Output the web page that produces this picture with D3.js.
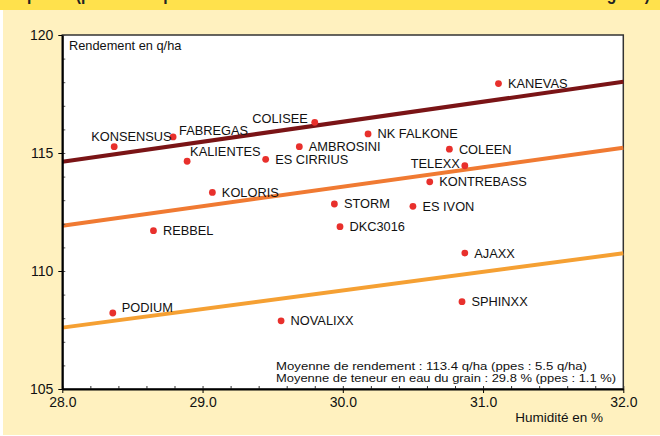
<!DOCTYPE html>
<html>
<head>
<meta charset="utf-8">
<script src="https://cdn.jsdelivr.net/npm/d3@7"></script>
<style>
  body { margin: 0; background: #ffffff; }
  svg { display: block; font-family: "Liberation Sans", Arial, sans-serif; }
</style>
</head>
<body>
<div id="chart"></div>
<script>
"use strict"

// varietes : humidite (%) et rendement (q/ha)
const varieties = ["KONSENSUS", "FABREGAS", "KALIENTES", "COLISEE", "AMBROSINI", "ES CIRRIUS",
  "KOLORIS", "REBBEL", "PODIUM", "NOVALIXX", "KANEVAS", "NK FALKONE", "COLEEN", "TELEXX",
  "KONTREBASS", "STORM", "ES IVON", "DKC3016", "AJAXX", "SPHINXX"];
const humidity = [28.37, 28.79, 28.89, 29.80, 29.69, 29.45,
  29.07, 28.65, 28.36, 29.56, 31.11, 30.18, 30.76, 30.87,
  30.62, 29.94, 30.50, 29.98, 30.87, 30.85];
const yieldQ = [115.27, 115.68, 114.65, 116.30, 115.27, 114.73,
  113.33, 111.71, 108.22, 107.89, 117.94, 115.81, 115.16, 114.46,
  113.78, 112.84, 112.74, 111.88, 110.76, 108.70];

// droites de reference (rendement a 28 % et a 32 %)
const refLines = [
  { from: 114.63, to: 118.02 },
  { from: 111.92, to: 115.22 },
  { from: 107.60, to: 110.75 }
];
const refColors = ["#7a1416", "#f07a32", "#f5a033"];

const xTicks = [28, 29, 30, 31, 32];
const yTicks = [105, 110, 115, 120];
const statLines = [
  "Moyenne de rendement : 113.4 q/ha  (ppes : 5.5 q/ha)",
  "Moyenne de teneur en eau du grain : 29.8 % (ppes : 1.1 %)"
];

// placement des etiquettes qui ne sont pas a droite du point
const labelPlace = {
  "KONSENSUS": [-23, -5.5, "start"],
  "FABREGAS": [6, -2, "start"],
  "KALIENTES": [3, -5, "start"],
  "COLISEE": [-7, 0.5, "end"],
  "TELEXX": [-5, 2, "end"],
  "PODIUM": [9, -1, "start"]
};

let width = 660, height = 436;
let plotL = 62.3, plotR = 623.3, plotT = 35, plotB = 389;

let svg = d3.select("#chart").append("svg")
            .attr("width", width)
            .attr("height", height);

// fonds
svg.append("rect").attr("x", 3).attr("y", 9).attr("width", width - 3).attr("height", 426)
   .attr("fill", "#fff1bf");
svg.append("rect").attr("x", 0).attr("y", 0).attr("width", width).attr("height", 10)
   .attr("fill", "#ffe14c");
// titre coupe par le haut de l'image
svg.append("text")
   .attr("x", 8).attr("y", -0.5)
   .attr("font-size", 19).attr("font-weight", "bold").attr("fill", "#222")
   .attr("textLength", 642).attr("lengthAdjust", "spacingAndGlyphs")
   .text("Espèces (précoces - plusieurs lieux : rendement et humidité à la récolte en maïs grain)");

let x = d3.scaleLinear().domain([28, 32]).range([plotL, plotR]);
let y = d3.scaleLinear().domain([105, 120]).range([plotB, plotT]);

svg.append("rect")
   .attr("x", plotL).attr("y", plotT)
   .attr("width", plotR - plotL).attr("height", plotB - plotT)
   .attr("fill", "#ffffff")
   .attr("stroke", "#333").attr("stroke-width", 1.5);

// droites
let plot = svg.append("g");
plot.selectAll("line.ref")
    .data(refLines)
    .enter().append("line")
    .attr("class", "ref")
    .attr("x1", x(28)).attr("x2", x(32))
    .attr("y1", d => y(d.from)).attr("y2", d => y(d.to))
    .attr("stroke", (d, i) => refColors[i])
    .attr("stroke-width", 4);

// points
let pts = varieties.map((name, i) => ({ name: name, hum: humidity[i], yld: yieldQ[i] }));
plot.selectAll("circle")
    .data(pts)
    .enter().append("circle")
    .attr("cx", d => x(d.hum))
    .attr("cy", d => y(d.yld))
    .attr("r", 3.4)
    .attr("fill", "#e8302c");

plot.selectAll("text.lbl")
    .data(pts)
    .enter().append("text")
    .attr("class", "lbl")
    .attr("x", d => x(d.hum) + (labelPlace[d.name] ? labelPlace[d.name][0] : 9.5))
    .attr("y", d => y(d.yld) + (labelPlace[d.name] ? labelPlace[d.name][1] : 4.5))
    .attr("text-anchor", d => labelPlace[d.name] ? labelPlace[d.name][2] : "start")
    .attr("font-size", 12.8)
    .attr("fill", "#111")
    .text(d => d.name);

// axes
let minorY = d3.range(105, 121, 1);
let minorX = d3.range(28, 32.01, 0.2);

svg.append("g")
   .attr("transform", "translate(" + plotL + ",0)")
   .call(d3.axisRight(y).tickValues(minorY).tickSize(3).tickFormat(""))
   .call(g => g.select(".domain").remove())
   .selectAll("line").attr("stroke", "#555");

svg.append("g")
   .attr("transform", "translate(0," + plotB + ")")
   .call(d3.axisTop(x).tickValues(minorX).tickSize(3).tickFormat(""))
   .call(g => g.select(".domain").remove())
   .selectAll("line").attr("stroke", "#333");

let yAxis = svg.append("g")
   .attr("transform", "translate(" + plotL + ",0)")
   .call(d3.axisLeft(y).tickValues(yTicks).tickSize(4).tickSizeOuter(0).tickPadding(5));
yAxis.select(".domain").attr("stroke-width", 2).attr("stroke", "#000");
yAxis.selectAll("text").attr("font-size", 14).attr("fill", "#111")
     .attr("font-family", "Liberation Sans, Arial, sans-serif");

let xAxis = svg.append("g")
   .attr("transform", "translate(0," + plotB + ")")
   .call(d3.axisBottom(x).tickValues(xTicks).tickSize(4).tickSizeOuter(0).tickPadding(4)
           .tickFormat(d3.format(".1f")));
xAxis.select(".domain").attr("stroke-width", 2).attr("stroke", "#000");
xAxis.selectAll("text").attr("font-size", 14).attr("fill", "#111")
     .attr("font-family", "Liberation Sans, Arial, sans-serif");

// titres
svg.append("text")
   .attr("x", 69).attr("y", 50)
   .attr("font-size", 12.8).attr("fill", "#111")
   .text("Rendement en q/ha");
svg.append("text")
   .attr("x", 603).attr("y", 422)
   .attr("text-anchor", "end")
   .attr("font-size", 13.5).attr("fill", "#111")
   .text("Humidité en %");

let statWidths = [311, 340];
svg.append("g").selectAll("text")
   .data(statLines)
   .enter().append("text")
   .attr("x", 276)
   .attr("y", (d, i) => 369.5 + i * 12)
   .attr("font-size", 11.8).attr("fill", "#111")
   .attr("textLength", (d, i) => statWidths[i])
   .attr("lengthAdjust", "spacingAndGlyphs")
   .text(d => d);
</script>
</body>
</html>
